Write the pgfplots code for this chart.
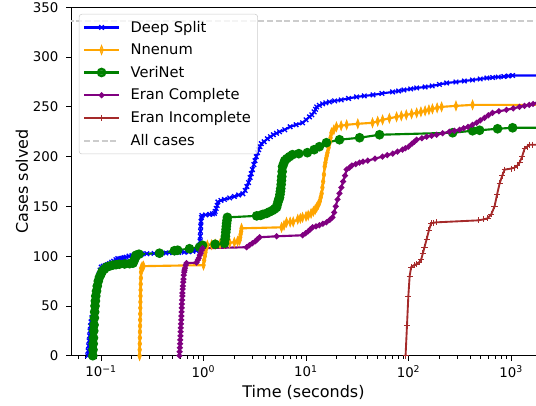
\documentclass[border=0pt]{standalone}
\usepackage{fontspec}
\setmainfont{DejaVu Sans}
\usepackage{pgfplots}
\pgfplotsset{compat=1.18}
\definecolor{mblue}{HTML}{0000FF}
\definecolor{morange}{HTML}{FFA500}
\definecolor{mgreen}{HTML}{008000}
\definecolor{mpurple}{HTML}{800080}
\definecolor{mbrown}{HTML}{A52A2A}
\definecolor{mgrey}{HTML}{CCCCCC}
\begin{document}
\begin{tikzpicture}
\begin{axis}[
  scale only axis,
  width=348.75pt, height=261.3pt,
  xmode=log,
  xmin=0.051, xmax=1750,
  ymin=0, ymax=350,
  axis y line*=left,
  xtick pos=bottom, ytick pos=left,
  tick align=outside,
  major tick length=3.6pt, minor tick length=2.1pt,
  every tick/.style={black, line width=0.6pt},
  axis line style={line width=0.6pt},
  xtick={0.1,1,10,100,1000},
  xticklabels={10\textsuperscript{−1},10\textsuperscript{0},10\textsuperscript{1},10\textsuperscript{2},10\textsuperscript{3}},
  minor xtick={0.06,0.07,0.08,0.09,0.2,0.3,0.4,0.5,0.6,0.7,0.8,0.9,2,3,4,5,6,7,8,9,20,30,40,50,60,70,80,90,200,300,400,500,600,700,800,900},
  ytick={0,50,100,150,200,250,300,350},
  /pgf/number format/assume math mode=true,
  tick label style={font=\fontsize{10}{12}\selectfont},
  yticklabel style={xshift=-2.3pt},
  xlabel={Time (seconds)},
  ylabel={Cases solved},
  every axis x label/.style={at={(axis description cs:0.5,0)}, yshift=-27.2pt, anchor=center, font=\fontsize{12}{14}\selectfont},
  every axis y label/.style={at={(axis description cs:0,0.5)}, xshift=-36.75pt, rotate=90, anchor=center, font=\fontsize{12}{14}\selectfont},
  legend cell align=left,
  legend style={at={(0.017,0.981)}, anchor=north west, font=\fontsize{11}{13}\selectfont,
    draw=mgrey, rounded corners=2pt, fill=white, fill opacity=0.8, text opacity=1,
    row sep=3.2pt, inner sep=3pt},
  legend style={/tikz/every odd column/.append style={column sep=6pt}},
  legend image code/.code={\draw[mark repeat=2,mark phase=2,#1] plot coordinates {(0pt,0pt) (13pt,0pt) (26pt,0pt)};},
]
% Deep Split
\addplot[mblue, line width=1.6pt, mark=x, mark size=2.4pt, mark options={line width=1pt}] coordinates {
(0.0743,0) (0.0750,5) (0.0758,10) (0.0766,15) (0.0774,20) (0.0782,25) (0.0790,30) (0.0800,34)
(0.0815,38) (0.0830,42) (0.0845,48) (0.0860,54) (0.0875,60) (0.0890,65) (0.0905,70) (0.0920,74)
(0.0940,78) (0.0960,82) (0.0980,86) (0.1005,89) (0.105,90) (0.110,90.5) (0.115,91.5) (0.121,92.5)
(0.127,94) (0.133,95) (0.140,96.5) (0.146,97.5) (0.153,97.5) (0.160,98) (0.168,98.5) (0.176,99)
(0.188,100) (0.200,100.5) (0.210,101) (0.220,102) (0.250,102.2) (0.280,102.5) (0.330,102.8)
(0.372,103) (0.430,103.2) (0.500,103.5) (0.570,103.7) (0.650,104) (0.720,104.5) (0.787,105)
(0.850,105.5) (0.914,107) (0.920,111) (0.925,115) (0.930,120) (0.935,125) (0.940,130) (0.945,135)
(0.955,139) (0.965,141) (1.05,141.5) (1.15,142) (1.22,142.5) (1.28,143) (1.30,145) (1.33,148)
(1.36,151) (1.38,154.5) (1.48,156) (1.6,157) (1.8,158.5) (2.0,160) (2.2,161.5) (2.42,162.7)
(2.55,166) (2.65,170) (2.75,174) (2.85,179) (2.92,183) (3.0,187) (3.1,192) (3.18,196) (3.27,200)
(3.36,204) (3.45,207) (3.55,210) (3.66,213) (3.9,215) (4.2,218) (4.5,220) (4.8,222) (5.15,223.5)
(5.51,225) (6.2,227) (7.0,230) (8.0,232) (9.25,234) (10.0,237) (10.8,240) (11.4,242) (12.0,245)
(12.4,247.5) (12.7,250) (13.5,251.5) (14.5,253) (15.6,254) (16.9,255) (19,256) (22,257)
(26,258.5) (31.1,260) (37,261) (45,262) (55,263.5) (69.8,265) (80,266) (90,267) (105,268)
(120,269) (145,270) (170,271) (200,272.5) (235,274) (290,275) (350,276) (420,277) (500,278)
(580,279) (660,279.5) (750,280) (850,280.5) (940,281) (1035,281.5) (3000,281.5)
};
\addlegendentry{Deep Split}
% Nnenum
\addplot[morange, line width=1.6pt, mark=diamond*, mark size=3.6pt, mark options={xscale=0.5, line width=0.5pt}] coordinates {
(0.238,0) (0.2385,6) (0.239,12) (0.2395,18) (0.240,24) (0.2405,30) (0.241,36) (0.2415,42)
(0.242,48) (0.2425,54) (0.243,60) (0.2435,66) (0.244,72) (0.245,78) (0.246,84) (0.247,88)
(0.252,89.5) (0.26,90) (1.00,91) (1.015,96) (1.03,100) (1.045,104) (1.06,108) (1.09,111)
(1.2,111.5) (1.3,112) (1.45,112.5) (1.6,113) (1.8,113.5) (2.0,114) (2.15,115) (2.25,116)
(2.28,119) (2.30,122) (2.33,125) (2.35,128) (5.77,129) (6.1,131) (6.45,134)
(7.0,134.3) (7.5,134.5) (8.3,137) (8.8,138) (9.25,139) (10.0,140) (10.5,141) (11.2,143)
(11.8,145) (12.3,147) (12.7,149) (13.2,152) (13.6,155) (13.9,159) (14.2,163) (14.45,169)
(14.7,175) (14.95,182) (15.2,190) (15.45,194) (15.7,198) (15.95,201) (16.2,204) (16.6,209)
(17.0,214) (17.35,219) (17.7,224) (18.7,227) (19.8,230) (22,231) (24.9,232) (32,233)
(44.5,234) (50,235.5) (55.8,237) (65,238.5) (76.4,240) (85,241) (95,242) (107,243) (120,244)
(132,245) (145,246) (158,247) (171,248) (190,249) (210,250) (290,251) (421,252) (3000,252)
};
\addlegendentry{Nnenum}
% VeriNet
\addplot[mgreen, line width=1.6pt, mark=*, mark size=2.8pt] coordinates {
(0.0832,0) (0.0836,6) (0.0840,12) (0.0845,18) (0.0850,25) (0.0856,31) (0.0862,38) (0.0868,44)
(0.0875,50) (0.0882,55) (0.0890,60) (0.0905,65) (0.0920,70) (0.0942,75) (0.0967,79) (0.100,82)
(0.103,85) (0.108,87) (0.113,89) (0.121,90) (0.13,91) (0.14,91.5) (0.151,92) (0.17,92.2)
(0.19,92.5) (0.205,93) (0.209,95) (0.213,97) (0.217,99) (0.220,101) (0.235,102)
(0.372,103) (0.52,105.5) (0.56,106) (0.730,107.5) (0.914,109)
(0.978,111) (1.3,112) (1.60,113) (1.62,117) (1.635,120) (1.65,124) (1.66,127) (1.67,130)
(1.68,133) (1.695,136) (1.71,139) (3.3,140.5) (3.6,141) (3.8,142)
(4.12,143) (4.4,144.5) (4.71,146) (4.95,147.5) (5.16,149) (5.25,152) (5.35,155) (5.43,157)
(5.51,159) (5.57,162) (5.62,165) (5.67,168) (5.72,172) (5.76,176) (5.80,180) (5.85,185)
(5.90,190) (6.05,193) (6.2,196) (6.5,198) (6.9,200) (7.38,202) (8.5,203) (10.3,204) (12,207)
(13.5,210) (15.8,214) (21.2,217) (33.3,219) (52.1,222) (269,224) (421,226) (493,226.5)
(738,228) (1035,229) (3000,229)
};
\addlegendentry{VeriNet}
% Eran Complete
\addplot[mpurple, line width=1.6pt, mark=*, mark size=1.3pt] coordinates {
(0.583,0) (0.586,4) (0.588,8) (0.591,12) (0.593,16) (0.596,20) (0.598,24) (0.601,28) (0.603,32)
(0.606,36) (0.608,40) (0.611,44) (0.613,48) (0.616,52) (0.618,56) (0.621,60) (0.623,63)
(0.627,67) (0.630,70) (0.634,74) (0.638,77) (0.643,81) (0.648,84) (0.654,86) (0.660,88)
(0.670,91) (0.683,93) (0.855,93.5)
(0.88,96) (0.90,98) (0.92,101) (0.94,103) (0.96,106) (0.978,108) (2.63,109) (2.8,111)
(3.0,113) (3.2,115) (3.35,117) (3.52,119) (5.16,120) (9.25,121) (9.9,123) (10.5,125)
(11.0,127) (11.6,129) (12.5,130) (13.5,131) (14.6,132.5) (15.8,134) (17,136.5) (18.1,139)
(18.8,144) (19.5,150) (20.3,157) (21.2,163) (22.1,169) (23,175) (24,181) (24.9,187) (26.5,189)
(28,191) (30.5,192.5) (33.3,194) (36,195) (40,196) (47,198) (55.8,200) (62,201.5) (70,203)
(78,205) (87.4,207) (93,208.5) (100,210) (108,213) (114,215) (120,217) (135,218.5) (150,220)
(168,221) (188,222) (215,223.5) (250,225) (280,226) (315,227) (345,228.5) (380,230) (420,232)
(461,234) (500,236.5) (550,239) (600,241.5) (660,244) (760,245.5) (900,247) (1050,248.5)
(1211,250) (1350,251) (1500,252) (1640,253) (1760,254.2)
};
\addlegendentry{Eran Complete}
% Eran Incomplete
\addplot[mbrown, line width=1.4pt, mark=+, mark size=2.3pt, mark options={line width=0.7pt}] coordinates {
(93.5,0) (96.5,30) (99.5,60) (102.5,80) (106,89) (113,91) (120,92) (127,94) (133,97)
(138,103) (143,109) (150,117) (158,126) (166,133) (175,133.5) (186,134) (480,136) (540,137)
(590,138) (640,142) (690,150) (730,162) (773,173) (820,181) (865,187) (1000,188) (1082,189)
(1150,191) (1211,194) (1280,200) (1354,208) (1430,210) (1515,212) (1600,212) (3000,212)
};
\addlegendentry{Eran Incomplete}
% All cases
\addplot[mgrey, line width=1.2pt, dash pattern=on 4.5pt off 2pt] coordinates {(0.01,336) (3000,336)};
\addlegendentry{All cases}
\end{axis}
\pgfresetboundingbox
\path ([xshift=-53.25pt,yshift=-37.7pt]current axis.south west) rectangle ([yshift=5.5pt]current axis.north east);
\end{tikzpicture}
\end{document}
